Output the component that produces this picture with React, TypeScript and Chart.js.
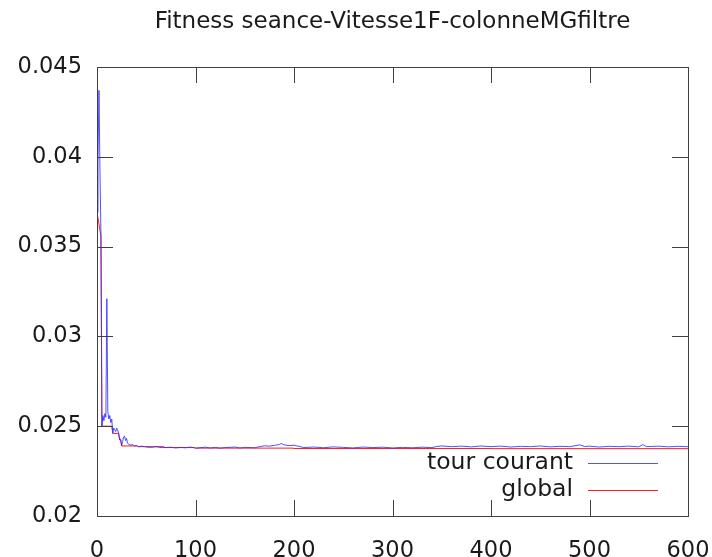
import React, { useEffect, useRef } from "react";
import { Chart, registerables } from "chart.js";

Chart.register(...registerables);

const TITLE = "Fitness seance-Vitesse1F-colonneMGfiltre";
const SERIES_NAMES = ["tour courant", "global"];

const X_TICKS = [0, 100, 200, 300, 400, 500, 600];
const Y_TICKS = [0.02, 0.025, 0.03, 0.035, 0.04, 0.045];

// "tour courant" (current iteration fitness)
const currentX = [
  0, 1, 2, 3, 4, 5, 6, 7, 8, 9, 10, 11, 12, 13, 14, 15, 16, 17, 18, 19, 20, 21, 22, 23, 24, 25,
  26, 27, 28, 29, 30, 31, 32, 34, 36, 38, 40, 42, 45, 48, 50, 55, 60, 65, 69, 75, 80, 85, 90, 95,
  100, 110, 115, 120, 125, 130, 140, 145, 150, 160, 165, 170, 175, 180, 185, 187, 190, 195, 200,
  205, 210, 220, 230, 240, 250, 260, 270, 280, 290, 300, 310, 320, 330, 340, 345, 350, 360, 370,
  380, 390, 400, 410, 420, 430, 440, 450, 460, 470, 480, 490, 495, 500, 510, 520, 530, 540, 550,
  554, 558, 570, 580, 590, 600,
];
const currentY = [
  0.0369, 0.0398, 0.0437, 0.0392, 0.0357, 0.025, 0.0256, 0.0253, 0.0257, 0.0255, 0.0321, 0.0258,
  0.0254, 0.0256, 0.0252, 0.0254, 0.0246, 0.0249, 0.0248, 0.0247, 0.0249, 0.0248, 0.0246, 0.02423,
  0.0243, 0.0239, 0.02415, 0.0244, 0.02445, 0.0242, 0.02432, 0.02405, 0.024, 0.02395, 0.02398,
  0.0239, 0.02392, 0.02386, 0.02389, 0.02387, 0.02384, 0.02382, 0.02386, 0.02381, 0.02381, 0.02383,
  0.02379, 0.02382, 0.0238, 0.02384, 0.02378, 0.02383, 0.02379, 0.02382, 0.02378, 0.02381, 0.02384,
  0.02379, 0.02382, 0.0238, 0.02386, 0.02391, 0.02389, 0.02393, 0.02398, 0.02404, 0.02396, 0.02392,
  0.02394, 0.02388, 0.02381, 0.02384, 0.0238, 0.02385, 0.02382, 0.02379, 0.02384, 0.02381, 0.02383,
  0.02379, 0.02382, 0.0238, 0.02383, 0.02381, 0.02387, 0.0239, 0.02386, 0.02389, 0.02385, 0.0239,
  0.02386, 0.02389, 0.02384, 0.02388, 0.02386, 0.0239, 0.02385, 0.02388, 0.02386, 0.02396, 0.02387,
  0.02389, 0.02384, 0.02388, 0.02386, 0.02389, 0.02385, 0.02397, 0.02386, 0.02389, 0.02385, 0.02388,
  0.02386,
];

// "global" (best so far)
const globalX = [0, 4, 5, 15, 16, 22, 23, 24, 25, 41, 42, 68, 69, 99, 100, 199, 200, 399, 400, 600];
const globalY = [
  0.0369, 0.0356, 0.025, 0.025, 0.0246, 0.0246, 0.02423, 0.02423, 0.0239, 0.0239, 0.02386, 0.02386,
  0.02381, 0.02381, 0.02378, 0.02378, 0.02376, 0.02376, 0.02375, 0.02375,
];

const COLORS = ["rgba(50,50,255,0.85)", "rgba(255,0,0,0.9)"];
const FONT = "'DejaVu Sans', sans-serif";
const TEXT = "#1a1a1a";
const BORDER = "#404040";

const frame = {
  id: "gnuplotFrame",
  afterDatasetsDraw(chart: any) {
    const { ctx, chartArea: a, scales } = chart;
    const tl = 16;
    ctx.save();
    ctx.strokeStyle = BORDER;
    ctx.lineWidth = 1;
    ctx.beginPath();
    for (const v of X_TICKS) {
      const px = Math.round(scales.x.getPixelForValue(v)) + 0.5;
      ctx.moveTo(px, a.bottom);
      ctx.lineTo(px, a.bottom - tl);
      ctx.moveTo(px, a.top);
      ctx.lineTo(px, a.top + tl);
    }
    for (const v of Y_TICKS) {
      const py = Math.round(scales.y.getPixelForValue(v)) + 0.5;
      ctx.moveTo(a.left, py);
      ctx.lineTo(a.left + tl, py);
      ctx.moveTo(a.right, py);
      ctx.lineTo(a.right - tl, py);
    }
    ctx.stroke();
    ctx.strokeRect(Math.round(a.left) + 0.5, Math.round(a.top) + 0.5, Math.round(a.right - a.left), Math.round(a.bottom - a.top));

    // legend (gnuplot style: text then sample line, inside bottom-right)
    ctx.font = `23.5px ${FONT}`;
    ctx.fillStyle = TEXT;
    ctx.textAlign = "right";
    ctx.textBaseline = "middle";
    SERIES_NAMES.forEach((name, i) => {
      const y = a.bottom - 53 + i * 27;
      ctx.fillText(name, a.right - 115, y);
      ctx.strokeStyle = COLORS[i];
      ctx.beginPath();
      ctx.moveTo(a.right - 100, Math.round(y) + 0.5);
      ctx.lineTo(a.right - 30, Math.round(y) + 0.5);
      ctx.stroke();
    });

    // title centred over the plot area
    ctx.font = `23px ${FONT}`;
    ctx.textAlign = "center";
    ctx.fillText(TITLE, (a.left + a.right) / 2, 22);
    ctx.restore();
  },
};

export default function App() {
  const ref = useRef<HTMLCanvasElement>(null);
  useEffect(() => {
    if (!ref.current) return;
    const chart = new Chart(ref.current, {
      type: "line",
      data: {
        datasets: [
          {
            label: SERIES_NAMES[0],
            data: currentX.map((x, i) => ({ x, y: currentY[i] })),
            borderColor: COLORS[0],
            borderWidth: 1,
            pointRadius: 0,
            tension: 0,
          },
          {
            label: SERIES_NAMES[1],
            data: globalX.map((x, i) => ({ x, y: globalY[i] })),
            borderColor: COLORS[1],
            borderWidth: 1,
            pointRadius: 0,
            tension: 0,
          },
        ],
      },
      options: {
        animation: false,
        responsive: false,
        devicePixelRatio: 1,
        layout: { padding: { top: 67, right: 24, left: 0, bottom: 0 } },
        plugins: { legend: { display: false }, title: { display: false }, tooltip: { enabled: false } },
        scales: {
          x: {
            type: "linear",
            min: 0,
            max: 600,
            afterBuildTicks: (s: any) => {
              s.ticks = X_TICKS.map((value) => ({ value }));
            },
            afterFit: (s: any) => {
              s.height = 41;
              s.paddingLeft = 0;
              s.paddingRight = 0;
            },
            grid: { display: false, drawTicks: false },
            border: { display: false },
            ticks: { color: TEXT, font: { family: FONT, size: 22.5 }, padding: 22, maxRotation: 0 },
          },
          y: {
            type: "linear",
            min: 0.02,
            max: 0.045,
            afterBuildTicks: (s: any) => {
              s.ticks = Y_TICKS.map((value) => ({ value }));
            },
            afterFit: (s: any) => {
              s.width = 97;
              s.paddingTop = 0;
              s.paddingBottom = 0;
            },
            grid: { display: false, drawTicks: false },
            border: { display: false },
            ticks: {
              color: TEXT,
              font: { family: FONT, size: 22.5 },
              padding: 15,
              callback: (v: any) => String(Number(Number(v).toFixed(3))),
            },
          },
        },
      },
      plugins: [frame],
    });
    return () => chart.destroy();
  }, []);
  return (
    <div style={{ position: "absolute", left: 0, top: 0, width: 712, height: 557, background: "#fff" }}>
      <canvas ref={ref} width={712} height={557} />
    </div>
  );
}
